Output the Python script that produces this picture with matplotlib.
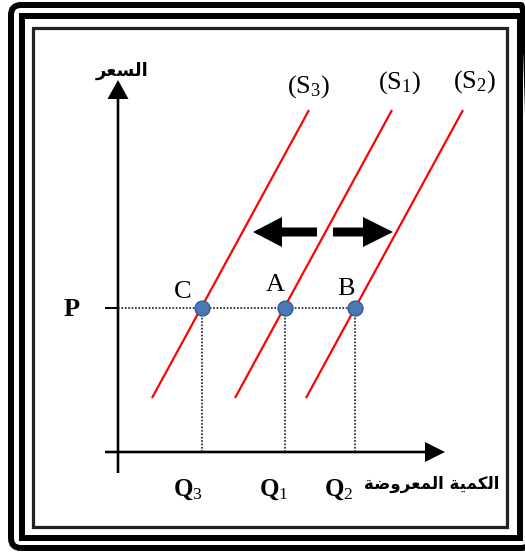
import matplotlib
matplotlib.use('Agg')
import matplotlib.pyplot as plt
from matplotlib.patches import Rectangle, FancyBboxPatch

plt.rcParams['mathtext.fontset'] = 'custom'
plt.rcParams['mathtext.rm'] = 'Liberation Serif'
plt.rcParams['mathtext.it'] = 'Liberation Serif:italic'
plt.rcParams['mathtext.bf'] = 'Liberation Serif:bold'

# ---------------- data (diagram units, origin at the axes corner) ----------------
supply_names = ['(S$_3$)', '(S$_1$)', '(S$_2$)']
supply_q_low = [34, 117, 188]      # quantity at the low end of each supply line
supply_q_high = [191, 274, 345]    # quantity at the high end of each supply line
supply_p_low = 54
supply_p_high = 342
point_names = ['C', 'A', 'B']
point_q = [84, 167, 237]
price_level = 144
q_tick_labels = ['Q$_3$', 'Q$_1$', 'Q$_2$']
price_tick_label = 'P'
price_axis_label = 'السعر'
quantity_axis_label = 'الكمية المعروضة'

# ---------------- minimal Arabic shaping (logical -> visual presentation forms) ----
FORMS = {
    'ا': ('\uFE8D', '\uFE8E', None, None),
    'ل': ('\uFEDD', '\uFEDE', '\uFEDF', '\uFEE0'),
    'س': ('\uFEB1', '\uFEB2', '\uFEB3', '\uFEB4'),
    'ع': ('\uFEC9', '\uFECA', '\uFECB', '\uFECC'),
    'ر': ('\uFEAD', '\uFEAE', None, None),
    'ك': ('\uFED9', '\uFEDA', '\uFEDB', '\uFEDC'),
    'م': ('\uFEE1', '\uFEE2', '\uFEE3', '\uFEE4'),
    'ي': ('\uFEF1', '\uFEF2', '\uFEF3', '\uFEF4'),
    'ة': ('\uFE93', '\uFE94', None, None),
    'و': ('\uFEED', '\uFEEE', None, None),
    'ض': ('\uFEBD', '\uFEBE', '\uFEBF', '\uFEC0'),
}


def shape_word(w):
    out = []
    for i, ch in enumerate(w):
        f = FORMS[ch]
        prev_joins = i > 0 and FORMS[w[i - 1]][2] is not None
        next_joins = i < len(w) - 1 and f[2] is not None
        if prev_joins and next_joins:
            g = f[3]
        elif prev_joins:
            g = f[1]
        elif next_joins:
            g = f[2]
        else:
            g = f[0]
        out.append(g)
    return ''.join(reversed(out))


def shape(text):
    return ' '.join(shape_word(w) for w in reversed(text.split(' ')))


# ---------------- figure ----------------
W, H = 525, 553
OX, OY = 118, 452  # pixel position of the diagram origin
fig = plt.figure(figsize=(W / 100, H / 100), dpi=100)
ax = fig.add_axes([0, 0, 1, 1])
ax.set_xlim(-OX, W - OX)
ax.set_ylim(OY - H, OY)
ax.axis('off')


def px(x, y):
    return x - OX, OY - y


PT = 0.72  # points per pixel

# frame
x0, y0 = px(11, 548)
ax.add_patch(FancyBboxPatch((x0, y0), 531 - 11, 548 - 5,
                            boxstyle='round,pad=0,rounding_size=10',
                            fc='none', ec='black', lw=6 * PT, clip_on=False))
x0, y0 = px(21.5, 537.5)
ax.add_patch(Rectangle((x0, y0), 520 - 21.5, 537.5 - 15.5, fc='none', ec='black',
                       lw=6 * PT, joinstyle='miter'))
x0, y0 = px(33, 527)
ax.add_patch(Rectangle((x0, y0), 507 - 33, 527 - 28, fc='none', ec='#222222',
                       lw=3.2 * PT, joinstyle='miter'))

# axes arrows
ax.arrow(0, -21, 0, 393, width=2.6, head_width=21, head_length=19,
         length_includes_head=True, fc='black', ec='none')
ax.arrow(-13, 0, 340, 0, width=2.6, head_width=20, head_length=20,
         length_includes_head=True, fc='black', ec='none')

# price guide
ax.plot([-13, 0], [price_level, price_level], color='black', lw=2 * PT,
        solid_capstyle='butt')
ax.plot([0, max(point_q)], [price_level, price_level], color='#222222',
        lw=1.7 * PT, ls=(0, (1, 1)))
for q in point_q:
    ax.plot([q, q], [0, price_level], color='#222222', lw=1.7 * PT, ls=(0, (1, 1)))

# supply lines
for ql, qh in zip(supply_q_low, supply_q_high):
    ax.plot([ql, qh], [supply_p_low, supply_p_high], color='#ff0000', lw=2.2 * PT,
            solid_capstyle='butt')

# supply labels
s_offsets = [(0, 23), (8, 27), (12, 28)]
for name, qh, off in zip(supply_names, supply_q_high, s_offsets):
    ax.annotate(name, (qh, supply_p_high), xytext=off, textcoords='offset pixels',
                ha='center', va='center', fontsize=19, family='Liberation Serif')

# equilibrium points
ax.plot(point_q, [price_level] * len(point_q), 'o', ms=15 * PT,
        mfc='#4a78b4', mec='#2c5590', mew=1.2 * PT, zorder=5)
p_offsets = [(-19, 16), (-10, 23), (-9, 19)]
for name, q, off in zip(point_names, point_q, p_offsets):
    ax.annotate(name, (q, price_level), xytext=off, textcoords='offset pixels',
                ha='center', va='center', fontsize=19, family='Liberation Serif')

# quantity tick labels
q_offsets = [-14, -11, -16]
for lab, q, dx in zip(q_tick_labels, point_q, q_offsets):
    ax.annotate(lab, (q, 0), xytext=(dx, -38), textcoords='offset pixels',
                ha='center', va='center', fontsize=18, family='Liberation Serif',
                fontweight='bold')

# price tick label
ax.annotate(price_tick_label, (0, price_level), xytext=(-46, -1),
            textcoords='offset pixels', ha='center', va='center', fontsize=19,
            family='Liberation Serif', fontweight='bold')

# shift arrows
ax.arrow(199, 220, -64, 0, width=9, head_width=30, head_length=29,
         length_includes_head=True, fc='black', ec='none')
ax.arrow(215, 220, 60, 0, width=9, head_width=30, head_length=30,
         length_includes_head=True, fc='black', ec='none')

# axis titles
ax.text(*px(122, 71), shape(price_axis_label), ha='center', va='center',
        fontsize=13, family='DejaVu Sans', fontweight='bold')
ax.text(*px(432, 484), shape(quantity_axis_label), ha='center', va='center',
        fontsize=12, family='DejaVu Sans', fontweight='bold')

fig.savefig('out.png', dpi=100)
